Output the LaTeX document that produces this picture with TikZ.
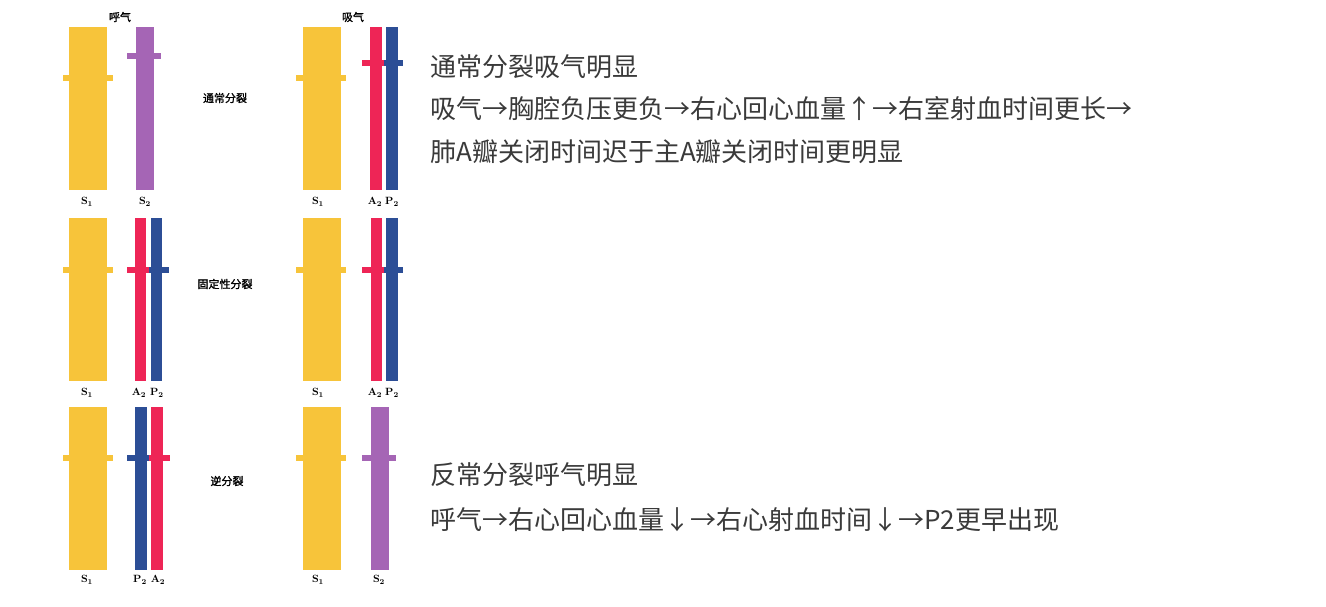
\documentclass[tikz,border=0pt]{standalone}
\usepackage{fontspec}
\newfontfamily\cjk{Noto Sans CJK SC}
\newfontfamily\cjkbold[FakeBold=1.5]{Noto Sans CJK SC}
\usetikzlibrary{positioning}
\definecolor{ColYellow}{RGB}{247,196,58}
\definecolor{ColPurple}{RGB}{165,101,181}
\definecolor{ColRed}{RGB}{238,37,86}
\definecolor{ColBlue}{RGB}{44,78,150}
\definecolor{ColText}{RGB}{58,58,58}
% bar: x left, x right, y top, tab left, tab right, tab y, colour
\newcommand{\hsbar}[7]{%
  \fill[#7] (#1,#3) rectangle (#2,#3+163);
  \fill[#7] (#4,#6-3) rectangle (#5,#6+3);}

\begin{document}
\begin{tikzpicture}[
  x=1pt, y=-1pt,
  every node/.style={inner sep=0pt},
  headtag/.style={font=\cjkbold\fontsize{11}{13}\selectfont},
  sndtag/.style={font=\bfseries\fontsize{10.5}{12}\selectfont},
  note/.style={anchor=west, text=ColText, font=\cjk\fontsize{26}{30}\selectfont}
]
  \useasboundingbox (0,0) rectangle (1326,606);

  % Column heads
  \node[headtag] (expir) at (120,17) {呼气};
  \node[headtag] (inspir) at (353,17) {吸气};

  % Row 1: normal split
  \hsbar{69}{107}{27}{63}{113}{78}{ColYellow}
  \hsbar{136}{154}{27}{127}{161}{56}{ColPurple}
  \hsbar{303}{341}{27}{296}{346}{78}{ColYellow}
  \hsbar{370}{382}{27}{362}{384}{63}{ColRed}
  \hsbar{386}{398}{27}{384}{403}{63}{ColBlue}
  \node[headtag] (rowone) at (225,98) {通常分裂};
  \node[sndtag] (sa1) at (87,202) {S\textsubscript{1}};
  \node[sndtag] (sa2) at (145,202) {S\textsubscript{2}};
  \node[sndtag] (sb1) at (318,202) {S\textsubscript{1}};
  \node[sndtag] (ab2) at (375,202) {A\textsubscript{2}};
  \node[sndtag] (pb2) at (392,202) {P\textsubscript{2}};

  % Row 2: fixed split
  \hsbar{69}{107}{218}{63}{113}{270}{ColYellow}
  \hsbar{135}{146}{218}{127}{149}{270}{ColRed}
  \hsbar{151}{162}{218}{149}{169}{270}{ColBlue}
  \hsbar{303}{341}{218}{296}{346}{270}{ColYellow}
  \hsbar{371}{382}{218}{362}{384}{270}{ColRed}
  \hsbar{386}{398}{218}{384}{403}{270}{ColBlue}
  \node[headtag] (rowtwo) at (225,284) {固定性分裂};
  \node[sndtag] (sc1) at (87,393) {S\textsubscript{1}};
  \node[sndtag] (ac2) at (139,393) {A\textsubscript{2}};
  \node[sndtag] (pc2) at (157,393) {P\textsubscript{2}};
  \node[sndtag] (sd1) at (318,393) {S\textsubscript{1}};
  \node[sndtag] (ad2) at (375,393) {A\textsubscript{2}};
  \node[sndtag] (pd2) at (392,393) {P\textsubscript{2}};

  % Row 3: reversed split
  \hsbar{69}{107}{407}{63}{113}{458}{ColYellow}
  \hsbar{135}{147}{407}{127}{149}{458}{ColBlue}
  \hsbar{151}{163}{407}{149}{170}{458}{ColRed}
  \hsbar{303}{341}{407}{296}{346}{458}{ColYellow}
  \hsbar{371}{389}{407}{362}{396}{458}{ColPurple}
  \node[headtag] (rowthree) at (227,481) {逆分裂};
  \node[sndtag] (se1) at (87,580) {S\textsubscript{1}};
  \node[sndtag] (pe2) at (140,580) {P\textsubscript{2}};
  \node[sndtag] (ae2) at (158,580) {A\textsubscript{2}};
  \node[sndtag] (sf1) at (318,580) {S\textsubscript{1}};
  \node[sndtag] (sf2) at (379,580) {S\textsubscript{2}};

  % Notes
  \node[note] (noteone) at (430,67) {通常分裂吸气明显};
  \node[note] (notetwo) at (430,108) {吸气→胸腔负压更负→右心回心血量↑→右室射血时间更长→};
  \node[note] (notethree) at (430,152) {肺A瓣关闭时间迟于主A瓣关闭时间更明显};
  \node[note] (notefour) at (430,475) {反常分裂呼气明显};
  \node[note] (notefive) at (430,520) {呼气→右心回心血量↓→右心射血时间↓→P2更早出现};
\end{tikzpicture}
\end{document}
